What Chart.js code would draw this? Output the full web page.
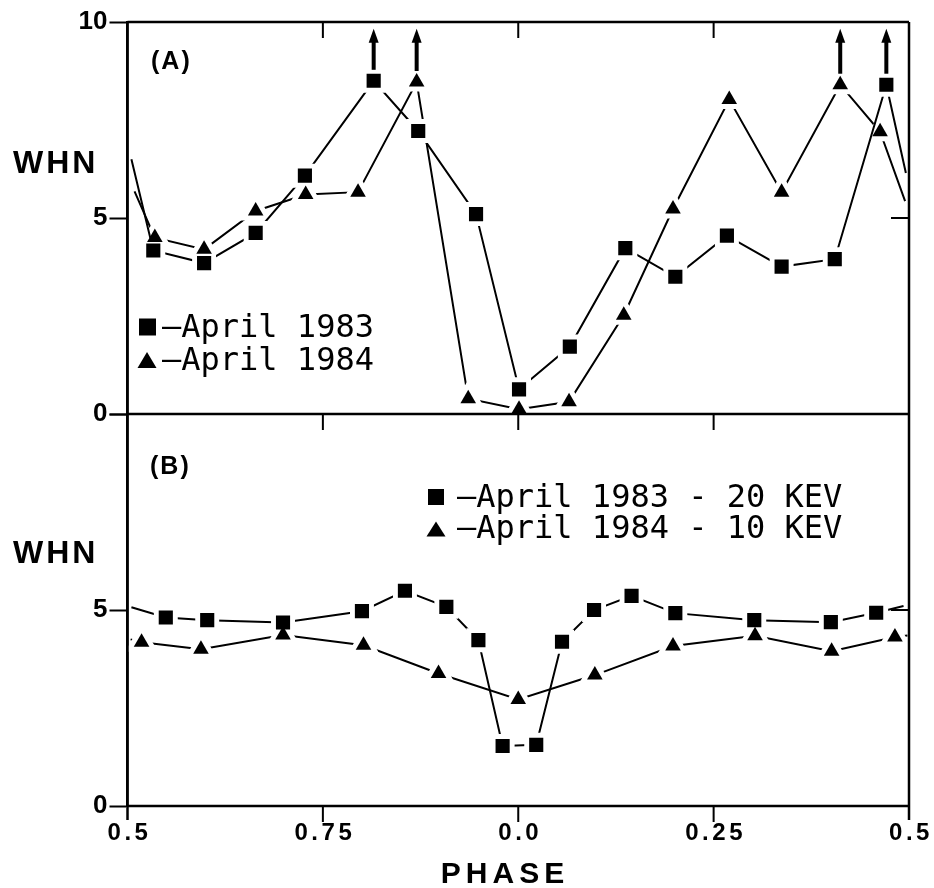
<!DOCTYPE html>
<html>
<head>
<meta charset="utf-8">
<script src="https://cdn.jsdelivr.net/npm/chart.js@4/dist/chart.umd.min.js"></script>
<style>
  body { margin: 0; background: #fff; }
  #wrap { width: 934px; height: 888px; }
</style>
</head>
<body>
<div id="wrap"><canvas id="grafico" width="934" height="888"></canvas></div>
<script>
// phase runs 0.5 -> 1.0/0.0 -> 0.5 ; stored as position 0..1 along the axis
const phaseTicks = [0, 0.25, 0.5, 0.75, 1];
const phaseLabels = ['0.5', '0.75', '0.0', '0.25', '0.5'];

// panel (A)
const phaseA83 = [0.005, 0.033, 0.098, 0.164, 0.227, 0.315, 0.372, 0.446, 0.501, 0.566, 0.637, 0.701, 0.767, 0.837, 0.905, 0.971, 0.996];
const whnA83 = [6.5, 4.17, 3.85, 4.62, 6.08, 8.5, 7.22, 5.1, 0.63, 1.72, 4.23, 3.5, 4.55, 3.76, 3.95, 8.4, 6.15];
const phaseA84 = [0.009, 0.035, 0.098, 0.164, 0.228, 0.295, 0.370, 0.436, 0.501, 0.565, 0.635, 0.698, 0.770, 0.837, 0.912, 0.963, 0.995];
const whnA84 = [5.68, 4.5, 4.2, 5.18, 5.6, 5.66, 8.47, 0.39, 0.12, 0.31, 2.52, 5.23, 8.02, 5.66, 8.4, 7.2, 5.43];

// panel (B)
const phaseB83 = [0.005, 0.049, 0.102, 0.199, 0.300, 0.355, 0.408, 0.449, 0.480, 0.523, 0.556, 0.597, 0.645, 0.701, 0.802, 0.900, 0.958, 0.993];
const whnB83 = [5.07, 4.81, 4.74, 4.68, 4.97, 5.49, 5.08, 4.23, 1.53, 1.56, 4.19, 5.0, 5.36, 4.92, 4.74, 4.69, 4.93, 5.1];
const phaseB84 = [0.004, 0.018, 0.094, 0.199, 0.302, 0.398, 0.500, 0.598, 0.698, 0.803, 0.901, 0.982, 0.998];
const whnB84 = [4.25, 4.18, 4.0, 4.36, 4.1, 3.38, 2.72, 3.34, 4.08, 4.34, 3.95, 4.31, 4.35];

// lower limits (arrows) in panel (A)
const arrowPhase = [0.315, 0.370, 0.912, 0.971];
const arrowFrom = [8.5, 8.47, 8.4, 8.4];
const arrowTo = 9.8;

const legendA = ['April 1983', 'April 1984'];
const legendB = ['April 1983 - 20 KEV', 'April 1984 - 10 KEV'];

const canvas = document.getElementById('grafico');

// line with a white halo at every symbol (gives the gap where the line meets it)
function linea(phases, values, style, axis) {
  const last = phases.length - 1;
  return {
    data: phases.map((p, i) => ({ x: p, y: values[i] })),
    yAxisID: axis,
    order: 3,
    borderColor: '#000',
    borderWidth: 2,
    tension: 0,
    pointStyle: style,
    pointRadius: phases.map((p, i) => (i === 0 || i === last) ? 0 : (style === 'rect' ? 13.4 : 14)),
    pointBorderWidth: 5,
    pointBorderColor: '#fff',
    pointBackgroundColor: '#fff'
  };
}

// the black symbols, drawn on top of all lines
function simbolos(phases, values, style, axis) {
  const last = phases.length - 1;
  return {
    data: phases.map((p, i) => ({ x: p, y: values[i] })),
    yAxisID: axis,
    order: 1,
    showLine: false,
    pointStyle: style,
    pointRadius: phases.map((p, i) => (i === 0 || i === last) ? 0 : (style === 'rect' ? 10 : 9)),
    pointBorderWidth: 0,
    pointBackgroundColor: '#000'
  };
}

function texto(ctx, s, x, y, font, align, spacing) {
  ctx.font = font;
  ctx.letterSpacing = (spacing || 0) + 'px';
  ctx.textAlign = align || 'left';
  ctx.textBaseline = 'alphabetic';
  ctx.fillStyle = '#000';
  ctx.fillText(s, x, y);
  ctx.letterSpacing = '0px';
}

function cuadrado(ctx, cx, cy, s) {
  ctx.fillRect(cx - s / 2, cy - s / 2, s, s);
}

function triangulo(ctx, cx, cy, w, h) {
  ctx.beginPath();
  ctx.moveTo(cx, cy - h / 2);
  ctx.lineTo(cx + w / 2, cy + h / 2);
  ctx.lineTo(cx - w / 2, cy + h / 2);
  ctx.closePath();
  ctx.fill();
}

const extras = {
  id: 'extras',
  afterDraw(chart) {
    const { ctx, chartArea: a, scales } = chart;
    const x = scales.x, yA = scales.yA, yB = scales.yB;
    const mid = yA.getPixelForValue(0);
    ctx.save();
    ctx.strokeStyle = '#000';
    ctx.fillStyle = '#000';
    ctx.lineWidth = 2.5;
    ctx.beginPath();
    ctx.moveTo(a.left, a.top); ctx.lineTo(a.right, a.top);
    ctx.moveTo(a.right, a.top); ctx.lineTo(a.right, a.bottom + 14);
    ctx.moveTo(a.left, a.top); ctx.lineTo(a.left, a.bottom + 14);
    ctx.moveTo(a.left, a.bottom); ctx.lineTo(a.right, a.bottom);
    ctx.moveTo(a.left, mid); ctx.lineTo(a.right, mid);
    ctx.stroke();

    // x ticks, all pointing down
    ctx.lineWidth = 2;
    ctx.beginPath();
    phaseTicks.slice(1, -1).forEach(t => {
      const px = x.getPixelForValue(t);
      [a.top, mid, a.bottom].forEach(py => { ctx.moveTo(px, py); ctx.lineTo(px, py + 16); });
    });
    // right ticks at 5, inward
    [yA.getPixelForValue(5), yB.getPixelForValue(5)].forEach(py => {
      ctx.moveTo(a.right - 18, py); ctx.lineTo(a.right, py);
    });
    ctx.stroke();

    // x tick labels
    phaseTicks.forEach((t, i) => {
      texto(ctx, phaseLabels[i], x.getPixelForValue(t) + 2, a.bottom + 34, 'bold 24px "Liberation Sans"', 'center', 3.5);
    });
    texto(ctx, 'PHASE', 505, 883, 'bold 30px "Liberation Sans"', 'center', 5);
    texto(ctx, 'WHN', 13, 173, 'bold 32px "Liberation Sans"', 'left', 3);
    texto(ctx, 'WHN', 13, 563, 'bold 32px "Liberation Sans"', 'left', 3);
    texto(ctx, '(A)', 151, 69, 'bold 25px "Liberation Sans"', 'left', 2);
    texto(ctx, '(B)', 150, 474, 'bold 25px "Liberation Sans"', 'left', 2);

    // arrows (lower limits)
    arrowPhase.forEach((p, i) => {
      const px = x.getPixelForValue(p);
      const y0 = yA.getPixelForValue(arrowFrom[i]) - 11;
      const y1 = yA.getPixelForValue(arrowTo) - 1;
      ctx.lineWidth = 4;
      ctx.beginPath();
      ctx.moveTo(px, y0); ctx.lineTo(px, y1 + 10);
      ctx.stroke();
      ctx.beginPath();
      ctx.moveTo(px, y1);
      ctx.lineTo(px + 5, y1 + 14);
      ctx.lineTo(px - 5, y1 + 14);
      ctx.closePath();
      ctx.fill();
    });

    // legends
    const mono = '32px "DejaVu Sans Mono"';
    cuadrado(ctx, 147.5, 327, 17);
    texto(ctx, '\u2013' + legendA[0], 162, 337, mono);
    triangulo(ctx, 147, 360, 19, 16);
    texto(ctx, '\u2013' + legendA[1], 162, 370, mono);
    cuadrado(ctx, 436, 497, 16);
    texto(ctx, '\u2013' + legendB[0], 457, 507, mono);
    triangulo(ctx, 436, 529, 19, 15);
    texto(ctx, '\u2013' + legendB[1], 457, 538, mono);
    ctx.restore();
  }
};

const yFont = { family: 'Liberation Sans', size: 26, weight: 'bold' };

function ejeY(hideTop) {
  return {
    type: 'linear',
    position: 'left',
    stack: 'paneles',
    stackWeight: 1,
    min: 0,
    max: 10,
    ticks: {
      stepSize: 5,
      color: '#000',
      font: yFont,
      padding: 2,
      callback: v => (hideTop && v === 10) ? '' : String(v)
    },
    grid: { drawOnChartArea: false, tickLength: 18, tickWidth: 2, color: '#000' },
    border: { display: true, width: 2.5, color: '#000' },
    afterFit(s) { s.width = 127.5; }
  };
}

new Chart(canvas, {
  type: 'line',
  data: {
    datasets: [
      linea(phaseA83, whnA83, 'rect', 'yA'),
      linea(phaseA84, whnA84, 'triangle', 'yA'),
      linea(phaseB83, whnB83, 'rect', 'yB'),
      linea(phaseB84, whnB84, 'triangle', 'yB'),
      simbolos(phaseA83, whnA83, 'rect', 'yA'),
      simbolos(phaseA84, whnA84, 'triangle', 'yA'),
      simbolos(phaseB83, whnB83, 'rect', 'yB'),
      simbolos(phaseB84, whnB84, 'triangle', 'yB')
    ]
  },
  options: {
    responsive: false,
    animation: false,
    layout: { padding: { left: 0, right: 25, top: 22, bottom: 82 } },
    plugins: { legend: { display: false }, tooltip: { enabled: false } },
    scales: {
      x: { type: 'linear', min: 0, max: 1, display: false },
      // in a stack the first axis goes to the bottom
      yB: ejeY(true),
      yA: ejeY(false)
    }
  },
  plugins: [extras]
});
</script>
</body>
</html>
